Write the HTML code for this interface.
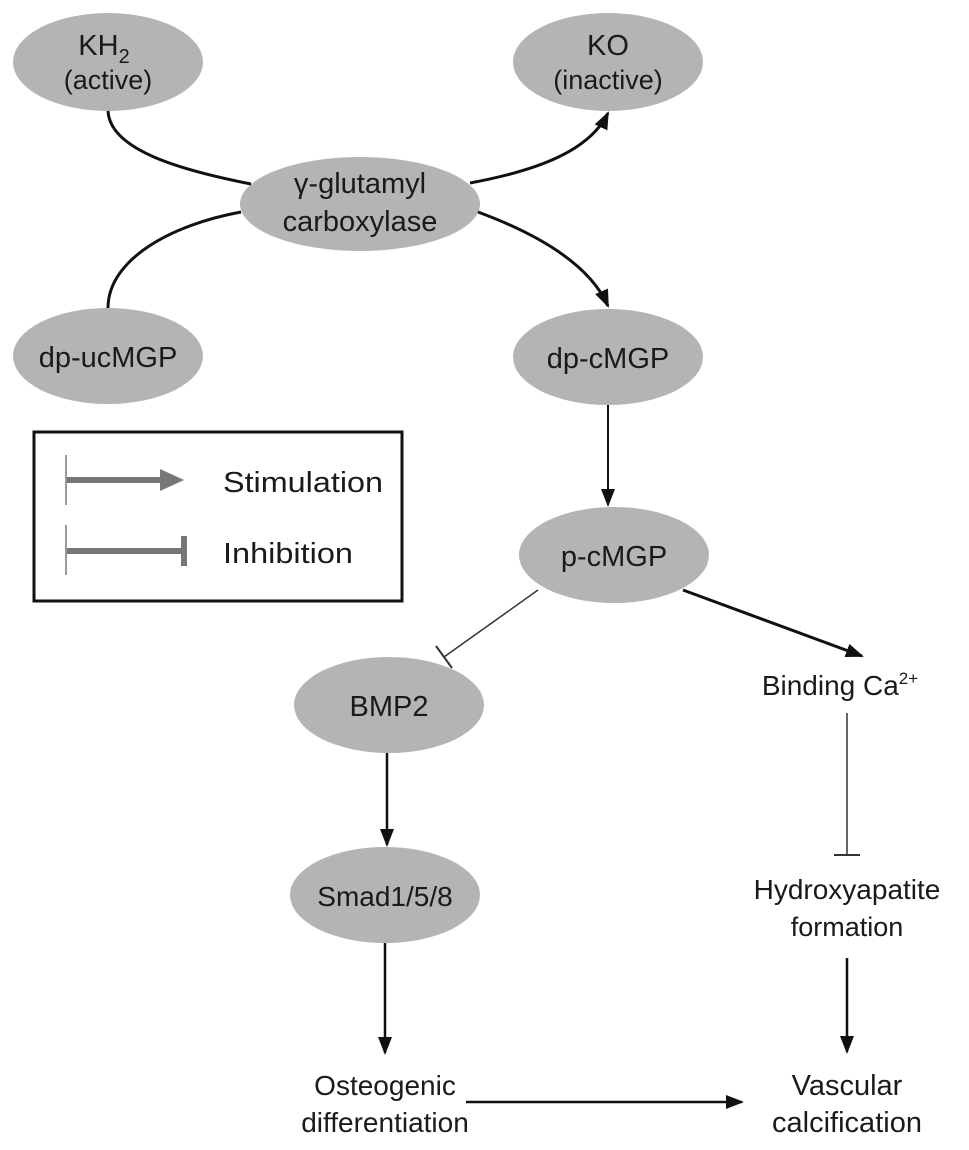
<!DOCTYPE html>
<html><head><meta charset="utf-8"><style>
html,body{margin:0;padding:0;background:#fff;}
svg{display:block;}
text{font-family:"Liberation Sans",Arial,sans-serif;fill:#1a1a1a;}
</style></head><body>
<svg width="969" height="1150" viewBox="0 0 969 1150" xmlns="http://www.w3.org/2000/svg">
<defs>
<marker id="ah2" markerWidth="18" markerHeight="18" refX="16" refY="9" orient="auto" markerUnits="userSpaceOnUse" viewBox="0 0 18 18">
<path d="M0,2 L18,9 L0,16 z" fill="#111"/></marker>
</defs>
<g fill="#b4b4b4">
<ellipse cx="108" cy="62" rx="95" ry="49"/>
<ellipse cx="608" cy="62" rx="95" ry="49"/>
<ellipse cx="360" cy="204" rx="120" ry="47"/>
<ellipse cx="108" cy="356" rx="95" ry="48"/>
<ellipse cx="608" cy="357" rx="95" ry="48"/>
<ellipse cx="614" cy="555" rx="95" ry="48"/>
<ellipse cx="389" cy="705" rx="95" ry="48"/>
<ellipse cx="385" cy="895" rx="95" ry="48"/>
</g>
<g fill="none" stroke="#111" stroke-width="3">
<path d="M108,111 C110,150 180,170 251,184"/>
<path d="M108,308 C108,260 170,225 241,212"/>
<path d="M470,183 C540,170 590,150 608,113" marker-end="url(#ah2)"/>
<path d="M478,212 C540,235 590,265 608,306" marker-end="url(#ah2)"/>
<path d="M608,405 L608,505" stroke-width="2" marker-end="url(#ah2)"/>
<path d="M683,590 L862,656" marker-end="url(#ah2)"/>
<path d="M387,753 L387,845" stroke-width="2.5" marker-end="url(#ah2)"/>
<path d="M385,943 L385,1053" stroke-width="2.5" marker-end="url(#ah2)"/>
<path d="M847,958 L847,1052" stroke-width="2.5" marker-end="url(#ah2)"/>
<path d="M466,1102 L742,1102" stroke-width="2.5" marker-end="url(#ah2)"/>
</g>
<g stroke="#333" stroke-width="1.5" fill="none">
<path d="M538,590 L444,657"/>
<path d="M436,646 L452,668" stroke-width="2"/>
<path d="M847,713 L847,855"/>
<path d="M834,855 L860,855" stroke-width="2"/>
</g>
<rect x="34" y="432" width="368" height="169" fill="none" stroke="#111" stroke-width="3"/>
<line x1="66" y1="455" x2="66" y2="505" stroke="#777" stroke-width="1.5"/>
<line x1="66" y1="525" x2="66" y2="575" stroke="#777" stroke-width="1.5"/>
<line x1="67" y1="480" x2="166" y2="480" stroke="#777" stroke-width="6"/>
<path d="M160,469 L184,480 L160,491 z" fill="#777"/>
<line x1="67" y1="551" x2="184" y2="551" stroke="#777" stroke-width="6"/>
<line x1="184" y1="536" x2="184" y2="566" stroke="#777" stroke-width="6"/>
<g font-size="29" text-anchor="middle">
<text x="104" y="55">KH<tspan font-size="20" dy="8">2</tspan></text>
<text x="108" y="89" font-size="27">(active)</text>
<text x="608" y="55">KO</text>
<text x="608" y="89" font-size="27">(inactive)</text>
<text x="360" y="193" font-size="29">γ-glutamyl</text>
<text x="360" y="231" font-size="29">carboxylase</text>
<text x="108" y="367" font-size="29">dp-ucMGP</text>
<text x="608" y="368" font-size="29">dp-cMGP</text>
<text x="614" y="566" font-size="29">p-cMGP</text>
<text x="389" y="716" font-size="29">BMP2</text>
<text x="385" y="906" font-size="28">Smad1/5/8</text>
<text x="840" y="695" font-size="28">Binding Ca<tspan font-size="17" dy="-11">2+</tspan></text>
<text x="847" y="899" font-size="28">Hydroxyapatite</text>
<text x="847" y="936" font-size="27">formation</text>
<text x="847" y="1095" font-size="29">Vascular</text>
<text x="847" y="1132" font-size="29">calcification</text>
<text x="385" y="1095" font-size="28">Osteogenic</text>
<text x="385" y="1132" font-size="28">differentiation</text>
</g>
<text x="223" y="492" font-size="29" textLength="160" lengthAdjust="spacingAndGlyphs">Stimulation</text>
<text x="223" y="563" font-size="29" textLength="130" lengthAdjust="spacingAndGlyphs">Inhibition</text>
</svg>
</body></html>
